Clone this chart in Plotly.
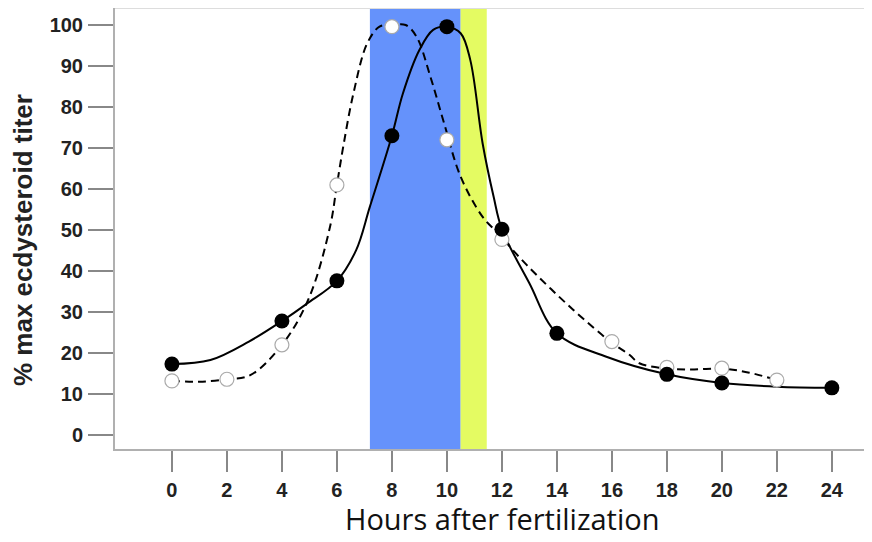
import plotly.graph_objects as go

# Measured data points
hours_filled = [0, 4, 6, 8, 10, 12, 14, 18, 20, 24]
titer_filled = [17.3, 27.8, 37.6, 73.0, 99.6, 50.2, 24.8, 14.8, 12.7, 11.5]

hours_open = [0, 2, 4, 6, 8, 10, 12, 16, 18, 20, 22]
titer_open = [13.2, 13.6, 22.0, 61.0, 99.6, 72.0, 47.7, 22.8, 16.5, 16.3, 13.4]

# Fitted curves
fit_filled_hours = [0, 1.4, 2.8, 4, 4.9, 6, 6.7, 7.2, 8, 8.4, 9.0, 9.5, 10, 10.5, 10.85, 11.3, 11.7, 12, 13, 14, 15.8, 18, 20, 22, 24]
fit_filled_titer = [17.3, 18.3, 22.8, 27.8, 32.0, 37.6, 45.1, 55.7, 73.0, 83.3, 93.9, 98.8, 99.6, 98.0, 91.5, 71.1, 58.1, 50.2, 37.0, 24.8, 19.1, 14.8, 12.7, 11.8, 11.5]

fit_open_hours = [0, 1.0, 2.0, 2.85, 4.05, 5.0, 5.75, 6.0, 6.25, 6.6, 7.1, 7.55, 8.0, 8.5, 8.9, 9.4, 9.9, 10.5, 11.3, 11.8, 12.9, 14.6, 16, 16.65, 17.0, 18, 19, 20, 21, 22]
fit_open_titer = [13.2, 13.0, 13.6, 14.6, 22.4, 33.7, 50.8, 61.0, 71.1, 83.3, 95.5, 99.6, 100.0, 100.0, 97.1, 87.4, 76.0, 63.0, 53.2, 49.6, 41.5, 30.5, 22.5, 19.5, 17.5, 16.2, 16.0, 16.2, 15.2, 13.4]

blue_band = [7.2, 10.5]
yellow_band = [10.5, 11.45]

x_ticks = list(range(0, 25, 2))
y_ticks = list(range(0, 101, 10))

fig = go.Figure()

fig.add_vrect(x0=blue_band[0], x1=blue_band[1], fillcolor="#6592fb", opacity=1, line_width=0, layer="below")
fig.add_vrect(x0=yellow_band[0], x1=yellow_band[1], fillcolor="#e4fb62", opacity=1, line_width=0, layer="below")

fig.add_trace(go.Scatter(x=fit_open_hours, y=fit_open_titer, mode="lines",
                         line=dict(color="black", width=2, dash="8px,5px", shape="spline", smoothing=1.0),
                         showlegend=False, hoverinfo="skip"))
fig.add_trace(go.Scatter(x=fit_filled_hours, y=fit_filled_titer, mode="lines",
                         line=dict(color="black", width=2, shape="spline", smoothing=1.0),
                         showlegend=False, hoverinfo="skip"))
fig.add_trace(go.Scatter(x=hours_open, y=titer_open, mode="markers",
                         marker=dict(size=14, color="white", line=dict(color="#aaaaaa", width=1.2)),
                         showlegend=False))
fig.add_trace(go.Scatter(x=hours_filled, y=titer_filled, mode="markers",
                         marker=dict(size=15, color="black", line=dict(color="black", width=0)),
                         showlegend=False))

tickfont = dict(family="Liberation Sans", size=20, color="#222222", weight="bold")

fig.update_xaxes(range=[-2.07, 25.46], tickvals=x_ticks, ticktext=[str(v) for v in x_ticks],
                 ticks="outside", ticklen=21, tickwidth=2, tickcolor="#888888",
                 showline=True, linecolor="#b0b0b0", linewidth=2, showgrid=False, zeroline=False,
                 tickfont=tickfont, ticklabelstandoff=1, automargin=False)
fig.update_yaxes(range=[-3.41, 104.15], tickvals=y_ticks, ticktext=[str(v) for v in y_ticks],
                 ticks="outside", ticklen=25, tickwidth=2, tickcolor="#888888",
                 showline=True, linecolor="#b0b0b0", linewidth=2, showgrid=False, zeroline=False,
                 tickfont=tickfont, ticklabelstandoff=1, automargin=False)

fig.add_shape(type="line", xref="paper", yref="paper", x0=0, x1=1, y0=1, y1=1,
              line=dict(color="#dddddd", width=2))

fig.add_annotation(text="% max ecdysteroid titer", xref="paper", yref="paper",
                   x=-0.1215, y=0.474, textangle=-90, showarrow=False,
                   xanchor="center", yanchor="middle",
                   font=dict(family="Liberation Sans", size=26, color="#222222", weight="bold"))

fig.add_annotation(text="Hours after fertilization", xref="x", yref="paper", x=12.0, y=-0.158,
                   showarrow=False, yanchor="middle", xanchor="center",
                   font=dict(family="Open Sans", size=29, color="#111111"))

# page has an 8px body margin, so the figure is 8px smaller and margins shifted
fig.update_layout(width=864, height=534, margin=dict(l=107, r=0, t=0, b=93),
                  plot_bgcolor="white", paper_bgcolor="white")

fig.write_html("out.html")
